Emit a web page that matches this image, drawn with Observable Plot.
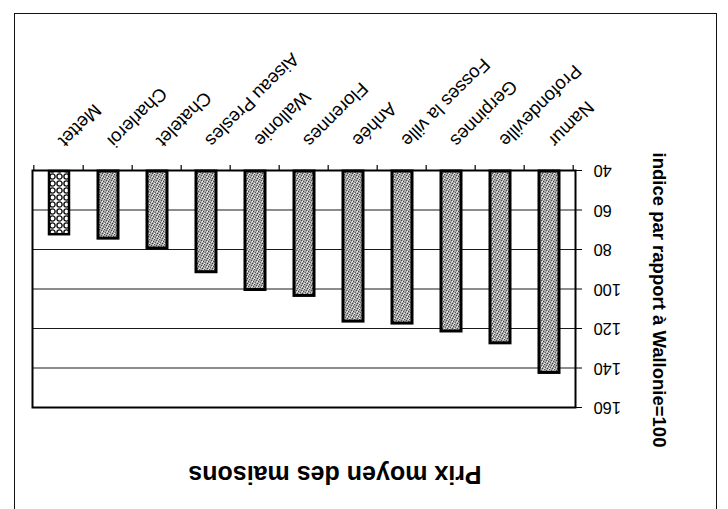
<!DOCTYPE html>
<html>
<head>
<meta charset="utf-8">
<script src="https://cdn.jsdelivr.net/npm/d3@7"></script>
<script src="https://cdn.jsdelivr.net/npm/@observablehq/plot@0.6"></script>
<style>
  html, body { margin: 0; padding: 0; background: white; }
  #wrap { position: relative; width: 728px; height: 509px; overflow: hidden; transform: rotate(180deg); background: white; }
  #border { position: absolute; left: 11px; top: -4px; width: 701px; height: 499px;
            border-left: 1.5px solid #111; border-right: 1.5px solid #111; border-bottom: 1.5px solid #111; }
  #wrap svg { position: absolute; left: 0; top: 0; }
</style>
</head>
<body>
<div id="wrap"><div id="border"></div></div>
<script>
const categories = ["Namur", "Profondeville", "Gerpinnes", "Fosses la ville", "Anhée", "Florennes", "Wallonie", "Aiseau Presles", "Chatelet", "Charleroi", "Mettet"];
const values = [142, 127, 121, 117, 116, 103, 100, 91, 79, 74, 72];
const yTicks = [40, 60, 80, 100, 120, 140, 160];
const highlighted = ["Mettet"];
const title = "Prix moyen des maisons";
const yTitle = "indice par rapport à Wallonie=100";

const data = categories.map((name, i) => ({name, value: values[i]}));
const yMin = yTicks[0];

const W = 728, H = 509;
const mL = 152, mR = 33, mT = 101, mB = 171;
const step = (W - mL - mR) / categories.length;
const font = "'Liberation Sans', Arial, Helvetica, sans-serif";

const chart = Plot.plot({
  width: W, height: H,
  marginLeft: mL, marginRight: mR, marginTop: mT, marginBottom: mB,
  style: {fontFamily: font, color: "black", background: "transparent", overflow: "visible"},
  x: {type: "band", domain: categories, paddingInner: 0.6, paddingOuter: 0.3},
  y: {domain: [yTicks[0], yTicks[yTicks.length - 1]]},
  marks: [
    Plot.gridY(yTicks.slice(1, -1), {stroke: "#1a1a1a", strokeOpacity: 1, strokeWidth: 1.2}),
    Plot.barY(data.filter(d => !highlighted.includes(d.name)), {
      x: "name", y1: yMin, y2: "value", fill: "url(#grain)", stroke: "#000", strokeWidth: 3
    }),
    Plot.barY(data.filter(d => highlighted.includes(d.name)), {
      x: "name", y1: yMin, y2: "value", fill: "url(#chain)", stroke: "#000", strokeWidth: 2.5
    }),
    Plot.frame({stroke: "#000", strokeWidth: 2}),
    // category boundary ticks
    Plot.ruleX(categories, {x: d => d, y1: yMin, y2: yMin, dx: -step / 2, insetBottom: -6, stroke: "#000", strokeWidth: 1.2}),
    Plot.ruleX(categories.slice(-1), {x: d => d, y1: yMin, y2: yMin, dx: step / 2, insetBottom: -6, stroke: "#000", strokeWidth: 1.2}),
    Plot.axisY(yTicks, {tickSize: 6, tickPadding: 12, fontSize: 16.5, label: null, stroke: "#000"}),
    Plot.axisX({tickSize: 0, tickRotate: -45, tickPadding: 27, fontSize: 18.5, label: null, dx: -3}),
    Plot.text([title], {text: d => d, frameAnchor: "top", lineAnchor: "bottom", dx: -31, dy: -58,
      fontSize: 25, fontWeight: "bold", fill: "#000"}),
    Plot.text([yTitle], {text: d => d, frameAnchor: "left", textAnchor: "middle", rotate: -90, dx: -83, dy: -11,
      fontSize: 18.5, fontWeight: "bold", fill: "#000"})
  ]
});

d3.select(chart).insert("defs", ":first-child").html(`
  <pattern id="grain" width="5" height="5" patternUnits="userSpaceOnUse">
    <rect width="5" height="5" fill="#a8a8a8"/>
    <rect x="0" y="0" width="1" height="1" fill="#3e3e3e"/>
    <rect x="2" y="1" width="1" height="1" fill="#5e5e5e"/>
    <rect x="4" y="2" width="1" height="1" fill="#404040"/>
    <rect x="1" y="3" width="1" height="1" fill="#505050"/>
    <rect x="3" y="4" width="1" height="1" fill="#484848"/>
    <rect x="3" y="0" width="1" height="1" fill="#ededed"/>
    <rect x="0" y="2" width="1" height="1" fill="#f6f6f6"/>
    <rect x="4" y="4" width="1" height="1" fill="#e2e2e2"/>
    <rect x="1" y="1" width="1" height="1" fill="#d8d8d8"/>
  </pattern>
  <pattern id="chain" width="7" height="7" patternUnits="userSpaceOnUse">
    <rect width="7" height="7" fill="#fff"/>
    <circle cx="3.5" cy="3.5" r="2.6" fill="none" stroke="#111" stroke-width="1.4"/>
  </pattern>`);

document.getElementById("wrap").appendChild(chart);
</script>
</body>
</html>
